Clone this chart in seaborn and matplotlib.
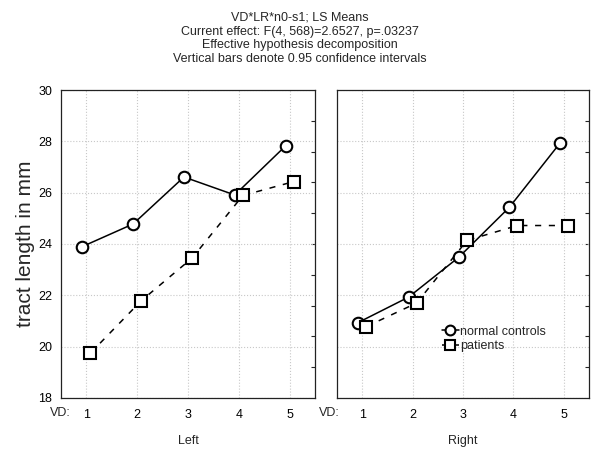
import numpy as np
import pandas as pd
import matplotlib
matplotlib.use("Agg")
import matplotlib.pyplot as plt
import matplotlib.transforms as mtransforms
import seaborn as sns

# ---- data ----
vd_levels = [1, 2, 3, 4, 5]
groups = ["normal controls", "patients"]
sides = ["Left", "Right"]
left_controls = [23.90, 24.78, 26.61, 25.91, 27.82]
left_patients = [19.75, 21.79, 23.45, 25.89, 26.43]
right_controls = [20.94, 21.93, 23.49, 25.43, 27.92]
right_patients = [20.78, 21.70, 24.14, 24.72, 24.72]
title_lines = [
    "VD*LR*n0-s1; LS Means",
    "Current effect: F(4, 568)=2.6527, p=.03237",
    "Effective hypothesis decomposition",
    "Vertical bars denote 0.95 confidence intervals",
]
y_label = "tract length in mm"
y_ticks = [18, 20, 22, 24, 26, 28, 30]

values = {
    ("Left", "normal controls"): left_controls,
    ("Left", "patients"): left_patients,
    ("Right", "normal controls"): right_controls,
    ("Right", "patients"): right_patients,
}
dodge = {"normal controls": -0.08, "patients": 0.08}

rows = []
for side in sides:
    for g in groups:
        for vd, v in zip(vd_levels, values[(side, g)]):
            rows.append({"side": side, "group": g, "VD": vd,
                         "xpos": vd + dodge[g], "length": v})
df = pd.DataFrame(rows)

sns.set_theme(style="white")
plt.rcParams["font.family"] = ["Liberation Sans", "DejaVu Sans"]

fig = plt.figure(figsize=(6, 4.5), dpi=100)
ax_l = fig.add_axes([61/600, 1-398/450, 254/600, 308/450])
ax_r = fig.add_axes([337/600, 1-398/450, 252/600, 308/450], sharey=ax_l)

vd_x = {"Left": 0.70, "Right": 0.56}
for ax, side in zip([ax_l, ax_r], sides):
    sub = df[df["side"] == side]
    sns.lineplot(data=sub, x="xpos", y="length", style="group",
                 style_order=groups,
                 markers={"normal controls": "o", "patients": "s"},
                 dashes={"normal controls": "", "patients": (4, 5)},
                 color="black", markerfacecolor="white",
                 markeredgecolor="black", markeredgewidth=1.5,
                 markersize=8.3, linewidth=1.1, legend=False, ax=ax,
                 sort=True, estimator=None)
    ax.set_xlim(0.5, 5.5)
    ax.set_ylim(18, 30)
    ax.set_xticks(vd_levels)
    ax.set_xticklabels([str(v) for v in vd_levels], fontsize=9)
    ax.set_yticks(y_ticks)
    ax.grid(True, color="#c8c8c8", linestyle=":", linewidth=0.8)
    ax.set_axisbelow(True)
    for s in ax.spines.values():
        s.set_color("#222222")
        s.set_linewidth(0.9)
    ax.tick_params(axis="x", length=0, pad=8, colors="black")
    ax.tick_params(axis="y", length=3, width=0.8, direction="out",
                   labelsize=9, colors="black")
    ax.set_xlabel(side, fontsize=9, labelpad=10)
    ax.set_ylabel("")
    sec = ax.secondary_yaxis("right")
    sec.set_yticks(np.linspace(18, 30, 11)[1:-1])
    sec.tick_params(direction="in", length=3, width=0.8, labelright=False)
    sec.spines["right"].set_visible(False)
    trans = mtransforms.blended_transform_factory(ax.transData, ax.transAxes)
    ax.text(vd_x[side], -0.05, "VD:", transform=trans, ha="right", va="center",
            fontsize=9)

ax_l.set_ylabel(y_label, fontsize=15, labelpad=2)
ax_r.tick_params(axis="y", left=False, labelleft=False)

handles = ax_r.lines[:2]
ax_r.legend(handles, groups, loc="upper left", bbox_to_anchor=(0.39, 0.255),
            frameon=False, fontsize=9, handlelength=1.4, handletextpad=0.1,
            labelspacing=0.2, markerscale=0.85, borderpad=0)

for i, line in enumerate(title_lines):
    fig.text(0.5, 1 - (18 + 13.7 * i) / 450, line, ha="center", va="center",
             fontsize=9)

fig.savefig("out.png", dpi=100)
